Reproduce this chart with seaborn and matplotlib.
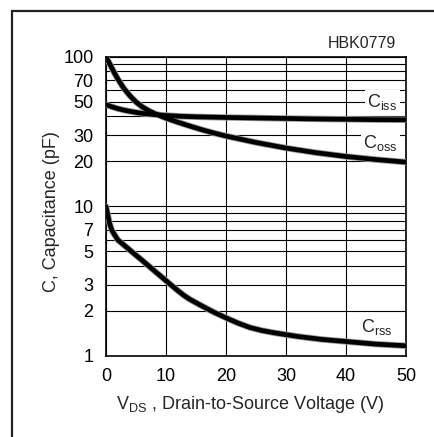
import matplotlib
matplotlib.use("Agg")
import matplotlib.pyplot as plt
import numpy as np
import pandas as pd
import seaborn as sns
from matplotlib.patches import Rectangle

# capacitance curves (pF vs V_DS)
v_ciss = [0, 0.5, 1, 2, 3, 4, 5, 6, 7.5, 10, 12.5, 15, 20, 25, 30, 35, 40, 45, 50]
c_ciss = [48, 47.2, 46.4, 45.1, 44.1, 43.3, 42.6, 42.0, 41.4, 40.6, 40.1, 39.8, 39.4, 39.1, 38.8, 38.5, 38.3, 38.1, 38.0]

v_coss = [0, 0.5, 1, 1.5, 2, 2.5, 3, 4, 5, 6, 7, 8, 10, 12, 14, 16, 18, 20, 25, 30, 35, 40, 45, 50]
c_coss = [100, 92, 84, 77, 71, 66, 61.5, 55, 50, 46.5, 44, 42, 39, 36.6, 34.5, 32.6, 31, 29.6,
          26.8, 24.6, 22.9, 21.6, 20.6, 19.8]

v_crss = [0, 0.3, 0.6, 1, 1.5, 2, 3, 4, 5, 6, 7, 8, 9, 10, 11, 12, 13, 14, 16, 18, 20, 22,
          24, 26, 28, 32, 36, 40, 45, 50]
c_crss = [10, 8.8, 7.7, 6.9, 6.4, 5.96, 5.52, 5.1, 4.72, 4.37, 4.04, 3.73, 3.45, 3.19, 2.95,
          2.73, 2.54, 2.39, 2.16, 1.96, 1.80, 1.66, 1.55, 1.48, 1.43, 1.35, 1.29, 1.25, 1.2, 1.17]

y_major = [1, 2, 3, 5, 7, 10, 20, 30, 50, 70, 100]
y_minor = [4, 6, 8, 9, 40, 60, 80, 90]
x_ticks = [0, 10, 20, 30, 40, 50]

sns.set_style("white")
plt.rcParams['font.family'] = ['Liberation Sans', 'DejaVu Sans']
plt.rcParams['mathtext.fontset'] = 'custom'
plt.rcParams['mathtext.rm'] = 'Liberation Sans'
plt.rcParams['mathtext.it'] = 'Liberation Sans'

fig = plt.figure(figsize=(4.34, 4.37), dpi=100)
ax = fig.add_axes([0.2442, 0.1854, 0.6912, 0.6842])

curves = [(v_ciss, c_ciss), (v_coss, c_coss), (v_crss, c_crss)]
for vx, cy in curves:
    df = pd.DataFrame({'V': vx, 'C': cy})
    sns.lineplot(data=df, x='V', y='C', ax=ax, color='#9a9a9a', lw=4.6, zorder=3)
    sns.lineplot(data=df, x='V', y='C', ax=ax, color='black', lw=3.4, zorder=4)

ax.set_yscale('log')
ax.set_xlim(0, 50)
ax.set_ylim(1, 100)
ax.set_xticks(x_ticks)
ax.set_yticks(y_major)
ax.set_yticks(y_minor, minor=True)
ax.set_yticklabels([str(v) for v in y_major])
ax.set_yticklabels([], minor=True)
ax.tick_params(which='both', length=0, labelsize=13, pad=9, colors='black')
ax.grid(True, which='both', color='black', lw=0.8)
for s in ax.spines.values():
    s.set_color('black')
    s.set_linewidth(1.2)
ax.set_axisbelow(True)

ax.set_xlabel('V$_{\\rm DS}$ , Drain-to-Source Voltage (V)', fontsize=13, labelpad=6)
ax.set_ylabel('C, Capacitance (pF)', fontsize=13, labelpad=2)
ax.xaxis.label.set_x(0.482)
ax.yaxis.label.set_y(0.482)

box = dict(facecolor='white', edgecolor='none', pad=1.5)
ax.text(48.6, 50, 'C$_{\\rm iss}$', ha='right', va='center', fontsize=13, bbox=box, zorder=5)
ax.text(48.6, 26.6, 'C$_{\\rm oss}$', ha='right', va='center', fontsize=13, bbox=box, zorder=5)
ax.text(47.8, 1.56, 'C$_{\\rm rss}$', ha='right', va='center', fontsize=13, bbox=box, zorder=5)

fig.text(0.9124, 0.9016, 'HBK0779', ha='right', va='center', fontsize=11.5)

fig.patches.append(Rectangle((0.0276, -0.1), 1.2, 1.0748, transform=fig.transFigure,
                             fill=False, edgecolor='#222222', lw=1.6))

fig.savefig('out.png', dpi=100)
